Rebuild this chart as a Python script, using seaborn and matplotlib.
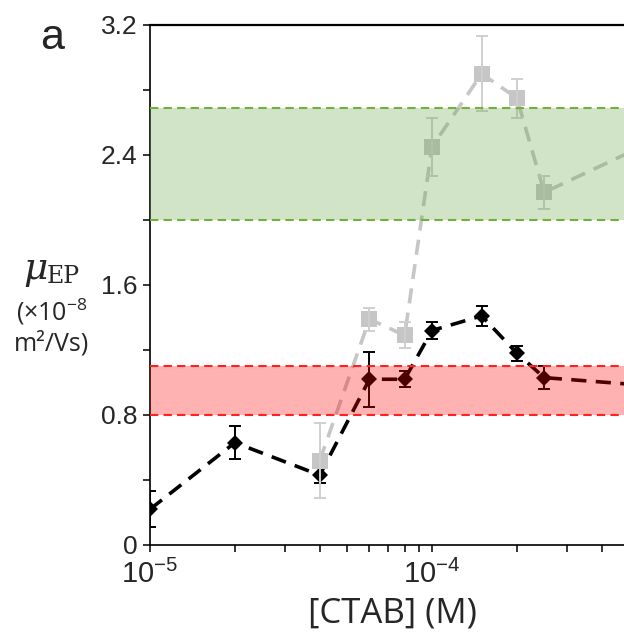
import numpy as np
import pandas as pd
import seaborn as sns
import matplotlib.pyplot as plt
from matplotlib.ticker import FixedLocator, NullFormatter

# ---- data ----
conc_black = [1e-5, 2e-5, 4e-5, 6e-5, 8e-5, 1e-4, 1.5e-4, 2e-4, 2.5e-4, 1e-3]
mu_black = [0.22, 0.63, 0.43, 1.02, 1.02, 1.32, 1.41, 1.18, 1.03, 0.95]
err_black = [0.11, 0.10, 0.05, 0.17, 0.05, 0.05, 0.06, 0.045, 0.07, 0.05]

conc_gray = [4e-5, 6e-5, 8e-5, 1e-4, 1.5e-4, 2e-4, 2.5e-4, 1e-3]
mu_gray = [0.52, 1.39, 1.29, 2.45, 2.90, 2.75, 2.17, 2.66]
err_gray = [0.23, 0.07, 0.08, 0.18, 0.23, 0.12, 0.10, 0.10]

green_band = (2.0, 2.69)
red_band = (0.8, 1.1)

y_ticks = [0, 0.8, 1.6, 2.4, 3.2]
y_tick_labels = ["0", "0.8", "1.6", "2.4", "3.2"]
y_minor = [0.4, 1.2, 2.0, 2.8]
x_ticks = [1e-5, 1e-4]
x_tick_labels = ["10$^{-5}$", "10$^{-4}$"]

sns.set_theme(style="ticks")
plt.rcParams["font.family"] = ["Liberation Sans", "DejaVu Sans"]
plt.rcParams["mathtext.fontset"] = "custom"
plt.rcParams["mathtext.rm"] = "Liberation Sans"
plt.rcParams["mathtext.default"] = "regular"

fig = plt.figure(figsize=(6.24, 6.36), dpi=100)
ax = fig.add_axes([150 / 624, 91 / 636, 564 / 624, 520 / 636])

black = pd.DataFrame({"conc": conc_black, "mu": mu_black, "err": err_black})
gray = pd.DataFrame({"conc": conc_gray, "mu": mu_gray, "err": err_gray})

# black diamonds
sns.lineplot(data=black, x="conc", y="mu", ax=ax, color="black", lw=2.6,
             marker="D", markersize=8.5, markeredgewidth=0, estimator=None,
             errorbar=None, zorder=3)
ax.lines[-1].set_dashes((4.2, 2.6))
ax.errorbar(black["conc"], black["mu"], yerr=black["err"], fmt="none",
            ecolor="black", elinewidth=1.4, capsize=4.5, capthick=1.4, zorder=3)

# gray squares
sns.lineplot(data=gray, x="conc", y="mu", ax=ax, color="#c6c6c6", lw=2.6,
             marker="s", markersize=11.5, markeredgewidth=0, estimator=None,
             errorbar=None, zorder=4)
ax.lines[-1].set_dashes((4.2, 2.6))
ax.errorbar(gray["conc"], gray["mu"], yerr=gray["err"], fmt="none",
            ecolor="#cfcfcf", elinewidth=1.4, capsize=4.5, capthick=1.4, zorder=4)

# shaded ranges drawn over the data
ax.axhspan(*green_band, color="#6ca848", alpha=0.3, lw=0, zorder=6)
ax.axhspan(*red_band, color="#ff0000", alpha=0.3, lw=0, zorder=6)
for yv in green_band:
    ax.axhline(yv, color="#6fb03f", lw=1.5, dashes=(4, 2.5), zorder=7)
for yv in red_band:
    ax.axhline(yv, color="#ff2020", lw=1.5, dashes=(4, 2.5), zorder=7)

ax.set_xscale("log")
ax.set_xlim(1e-5, 1e-3)
ax.set_ylim(0, 3.2)

ax.set_yticks(y_ticks)
ax.set_yticklabels(y_tick_labels)
ax.yaxis.set_minor_locator(FixedLocator(y_minor))
ax.set_xticks(x_ticks)
ax.set_xticklabels(x_tick_labels)
ax.xaxis.set_minor_locator(FixedLocator(
    [m * 1e-5 for m in range(2, 10)] + [m * 1e-4 for m in range(2, 10)]))
ax.xaxis.set_minor_formatter(NullFormatter())

ax.tick_params(axis="both", which="both", direction="out", length=5,
               width=1.1, color="black")
ax.tick_params(axis="y", labelsize=19, pad=4)
ax.tick_params(axis="x", labelsize=21, pad=6)

for side in ["left", "bottom", "top"]:
    ax.spines[side].set_visible(True)
    ax.spines[side].set_linewidth(1.2)
    ax.spines[side].set_color("black")
ax.spines["top"].set_linewidth(1.6)
ax.spines["right"].set_visible(False)

ax.set_xlabel("")
ax.set_ylabel("")
fig.text(392 / 624, 1 - 614 / 636, "[CTAB] (M)", family="Open Sans",
         fontsize=25, ha="center", va="center")

# stacked y label
fig.text(23 / 624, 1 - 279 / 636, "μ", family="DejaVu Serif", style="italic",
         fontsize=27, ha="left", va="baseline")
fig.text(47 / 624, 1 - 283 / 636, "EP", family="DejaVu Serif",
         fontsize=17, ha="left", va="baseline")
fig.text(52 / 624, 1 - 312 / 636, "(×10$^{-8}$", family="Open Sans",
         fontsize=18, ha="center", va="center")
fig.text(52 / 624, 1 - 344 / 636, "m²/Vs)", family="Open Sans",
         fontsize=18, ha="center", va="center")

fig.text(52 / 624, 1 - 38 / 636, "a", fontsize=31, ha="center", va="center")

fig.savefig("out.png", dpi=100)
